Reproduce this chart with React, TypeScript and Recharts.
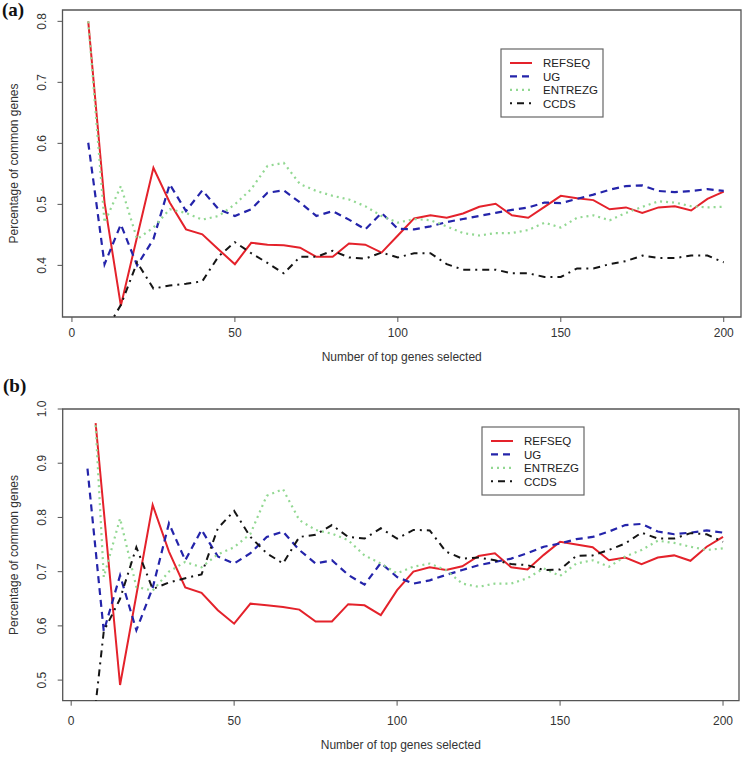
import React from "react";
import { LineChart, Line, XAxis, YAxis, ReferenceArea } from "recharts";

// ---------- data ----------
const X_STEPS = [5, 10, 15, 20, 25, 30, 35, 40, 45, 50, 55, 60, 65, 70, 75, 80, 85, 90, 95, 100,
  105, 110, 115, 120, 125, 130, 135, 140, 145, 150, 155, 160, 165, 170, 175, 180, 185, 190, 195, 200];
const X_B_ENTREZG = [7.5, 10, 15, 20, 25, 30, 35, 40, 45, 50, 55, 60, 65, 70, 75, 80, 85, 90, 95, 100,
  105, 110, 115, 120, 125, 130, 135, 140, 145, 150, 155, 160, 165, 170, 175, 180, 185, 190, 195, 200];
const X_B_REFSEQ = [7.5, 15, 20, 25, 30, 35, 40, 45, 50, 55, 60, 65, 70, 75, 80, 85, 90, 95, 100,
  105, 110, 115, 120, 125, 130, 135, 140, 145, 150, 155, 160, 165, 170, 175, 180, 185, 190, 195, 200];

const X_TICKS = [0, 50, 100, 150, 200];
const A_Y_TICKS = [0.4, 0.5, 0.6, 0.7, 0.8];
const B_Y_TICKS = [0.5, 0.6, 0.7, 0.8, 0.9, 1.0];

// panel (a)
const A_REFSEQ = [0.800, 0.503, 0.334, 0.447, 0.560, 0.503, 0.459, 0.451, 0.426, 0.402, 0.437, 0.434, 0.433, 0.429, 0.414, 0.414, 0.436, 0.434, 0.421, 0.449,
  0.477, 0.482, 0.478, 0.485, 0.496, 0.501, 0.482, 0.478, 0.496, 0.514, 0.510, 0.507, 0.492, 0.495, 0.486, 0.495, 0.497, 0.490, 0.509, 0.521];
const A_UG = [0.601, 0.402, 0.467, 0.400, 0.443, 0.533, 0.489, 0.523, 0.492, 0.481, 0.492, 0.519, 0.523, 0.503, 0.481, 0.489, 0.475, 0.459, 0.486, 0.460,
  0.459, 0.464, 0.471, 0.476, 0.481, 0.486, 0.491, 0.495, 0.503, 0.502, 0.509, 0.516, 0.524, 0.530, 0.531, 0.522, 0.520, 0.522, 0.525, 0.522];
const A_ENTREZG = [0.800, 0.470, 0.530, 0.443, 0.462, 0.492, 0.486, 0.475, 0.481, 0.500, 0.525, 0.563, 0.568, 0.533, 0.522, 0.514, 0.508, 0.497, 0.481, 0.470,
  0.476, 0.474, 0.464, 0.453, 0.449, 0.453, 0.453, 0.458, 0.470, 0.462, 0.478, 0.482, 0.474, 0.486, 0.496, 0.505, 0.503, 0.497, 0.495, 0.496];
const A_CCDS = [0.200, 0.290, 0.335, 0.405, 0.362, 0.367, 0.370, 0.374, 0.415, 0.438, 0.420, 0.404, 0.387, 0.414, 0.414, 0.424, 0.413, 0.411, 0.421, 0.413,
  0.420, 0.420, 0.402, 0.393, 0.393, 0.393, 0.387, 0.387, 0.381, 0.381, 0.395, 0.395, 0.402, 0.407, 0.416, 0.412, 0.412, 0.416, 0.416, 0.405];

// panel (b)
const B_REFSEQ = [0.974, 0.491, 0.657, 0.823, 0.737, 0.671, 0.661, 0.629, 0.604, 0.641, 0.638, 0.635, 0.630, 0.608, 0.608, 0.640, 0.638, 0.620, 0.666,
  0.700, 0.708, 0.703, 0.710, 0.729, 0.734, 0.708, 0.704, 0.731, 0.755, 0.750, 0.745, 0.721, 0.726, 0.714, 0.726, 0.730, 0.720, 0.746, 0.764];
const B_UG = [0.890, 0.590, 0.693, 0.592, 0.670, 0.789, 0.721, 0.777, 0.728, 0.715, 0.734, 0.764, 0.774, 0.740, 0.715, 0.721, 0.694, 0.676, 0.716, 0.690,
  0.678, 0.684, 0.694, 0.703, 0.712, 0.718, 0.724, 0.734, 0.746, 0.752, 0.760, 0.764, 0.774, 0.786, 0.788, 0.774, 0.769, 0.772, 0.776, 0.772];
const B_ENTREZG = [0.970, 0.690, 0.798, 0.672, 0.665, 0.700, 0.718, 0.708, 0.732, 0.745, 0.770, 0.840, 0.852, 0.795, 0.777, 0.770, 0.758, 0.730, 0.715, 0.697,
  0.709, 0.715, 0.703, 0.678, 0.672, 0.678, 0.678, 0.688, 0.706, 0.692, 0.715, 0.721, 0.709, 0.728, 0.740, 0.757, 0.753, 0.746, 0.740, 0.743];
const B_CCDS = [0.320, 0.590, 0.650, 0.745, 0.668, 0.680, 0.688, 0.695, 0.780, 0.812, 0.764, 0.734, 0.715, 0.764, 0.768, 0.786, 0.764, 0.761, 0.780, 0.761,
  0.777, 0.776, 0.737, 0.724, 0.726, 0.721, 0.714, 0.712, 0.703, 0.704, 0.729, 0.730, 0.740, 0.752, 0.772, 0.761, 0.761, 0.771, 0.769, 0.755];

const SERIES_NAMES = ["REFSEQ", "UG", "ENTREZG", "CCDS"];

// ---------- styles ----------
const FONT = '"Liberation Sans", Arial, Helvetica, sans-serif';
const SERIF = '"Liberation Serif", "Times New Roman", serif';
const STYLE: Record<string, { color: string; width: number; dash?: string }> = {
  REFSEQ: { color: "#e4222b", width: 2 },
  UG: { color: "#2424aa", width: 2.2, dash: "7 5" },
  ENTREZG: { color: "#92d892", width: 2.2, dash: "2 4" },
  CCDS: { color: "#151515", width: 2, dash: "2 5 7 5" },
};

const zip = (xs: number[], ys: number[]) => xs.map((x, i) => ({ x, y: ys[i] }));

const YTick = (props: any) => {
  const { x, y, payload } = props;
  const tx = x - 9.5;
  return (
    <text x={tx} y={y} transform={`rotate(-90, ${tx}, ${y})`} textAnchor="middle"
      fontSize={12} fill="#333" fontFamily={FONT}>
      {Number(payload.value).toFixed(1)}
    </text>
  );
};

type PanelProps = {
  top: number;
  height: number;
  marginTop: number;
  marginRight: number;
  yAxisWidth: number;
  xAxisHeight: number;
  tickMargin: number;
  xDomain: [number, number];
  yDomain: [number, number];
  yTicks: number[];
  series: { name: string; points: { x: number; y: number }[] }[];
  letter: string;
  letterPos: [number, number];
  legendPos: [number, number];
  yTitleY: number;
  xTitleY: number;
};

function Panel(p: PanelProps) {
  const W = 750;
  const plotLeft = p.yAxisWidth;
  const plotRight = W - p.marginRight;
  const [lx, ly] = p.legendPos;
  return (
    <div style={{ position: "absolute", left: 0, top: p.top, width: W, height: p.height }}>
      <LineChart width={W} height={p.height}
        margin={{ top: p.marginTop, right: p.marginRight, bottom: 0, left: 0 }}>
        <XAxis type="number" dataKey="x" domain={p.xDomain} allowDataOverflow ticks={X_TICKS}
          height={p.xAxisHeight} axisLine={false} tickSize={5} tickMargin={p.tickMargin}
          tickLine={{ stroke: "#555" }} tick={{ fontSize: 12, fill: "#333", fontFamily: FONT }} />
        <YAxis type="number" dataKey="y" domain={p.yDomain} allowDataOverflow ticks={p.yTicks}
          width={p.yAxisWidth} axisLine={false} tickSize={5} tickMargin={2}
          tickLine={{ stroke: "#555" }} tick={<YTick />} />
        {p.series.map((s) => (
          <Line key={s.name} data={s.points} dataKey="y" name={s.name} type="linear"
            stroke={STYLE[s.name].color} strokeWidth={STYLE[s.name].width}
            strokeDasharray={STYLE[s.name].dash} dot={false} activeDot={false}
            isAnimationActive={false} />
        ))}
        <ReferenceArea x1={p.xDomain[0]} x2={p.xDomain[1]} y1={p.yDomain[0]} y2={p.yDomain[1]}
          fill="none" stroke="#555" strokeWidth={1.3} ifOverflow="visible" />
      </LineChart>
      <svg width={W} height={p.height} style={{ position: "absolute", left: 0, top: 0, pointerEvents: "none" }}>
        <text x={p.letterPos[0]} y={p.letterPos[1]} fontFamily={SERIF} fontWeight="bold" fontSize={19} fill="#111">
          {p.letter}
        </text>
        <text x={18} y={p.yTitleY} transform={`rotate(-90, 18, ${p.yTitleY})`} textAnchor="middle"
          fontFamily={FONT} fontSize={12} fill="#333">
          Percentage of common genes
        </text>
        <text x={(plotLeft + plotRight) / 2} y={p.xTitleY} textAnchor="middle"
          fontFamily={FONT} fontSize={12} fill="#333">
          Number of top genes selected
        </text>
        <rect x={lx} y={ly} width={102} height={68} fill="#fff" stroke="#666" strokeWidth={1.2} />
        {SERIES_NAMES.map((name, i) => {
          const ry = ly + 14 + i * 13.4;
          return (
            <g key={name}>
              <line x1={lx + 9} x2={lx + 31} y1={ry} y2={ry} stroke={STYLE[name].color}
                strokeWidth={STYLE[name].width} strokeDasharray={STYLE[name].dash} />
              <text x={lx + 42} y={ry + 4.3} fontFamily={FONT} fontSize={11.5} fill="#222">{name}</text>
            </g>
          );
        })}
      </svg>
    </div>
  );
}

export default function App() {
  const seriesA = [
    { name: "REFSEQ", points: zip(X_STEPS, A_REFSEQ) },
    { name: "UG", points: zip(X_STEPS, A_UG) },
    { name: "ENTREZG", points: zip(X_STEPS, A_ENTREZG) },
    { name: "CCDS", points: zip(X_STEPS, A_CCDS) },
  ];
  const seriesB = [
    { name: "REFSEQ", points: zip(X_B_REFSEQ, B_REFSEQ) },
    { name: "UG", points: zip(X_STEPS, B_UG) },
    { name: "ENTREZG", points: zip(X_B_ENTREZG, B_ENTREZG) },
    { name: "CCDS", points: zip(X_STEPS, B_CCDS) },
  ];
  return (
    <div style={{ position: "absolute", left: 0, top: 0, width: 750, height: 759, background: "#fff", overflow: "hidden" }}>
      <Panel top={0} height={370} marginTop={10} marginRight={9} yAxisWidth={62.5} xAxisHeight={53}
        tickMargin={6} xDomain={[-2.9, 205.3]} yDomain={[0.3154, 0.8186]} yTicks={A_Y_TICKS}
        series={seriesA} letter="(a)" letterPos={[2, 16]} legendPos={[501, 49]}
        yTitleY={163.5} xTitleY={361} />
      <Panel top={370} height={389} marginTop={39} marginRight={11} yAxisWidth={62.7} xAxisHeight={58.3}
        tickMargin={11} xDomain={[-2.6, 204.9]} yDomain={[0.462, 1.0]} yTicks={B_Y_TICKS}
        series={seriesB} letter="(b)" letterPos={[3, 21.6]} legendPos={[482, 57]}
        yTitleY={185} xTitleY={379} />
    </div>
  );
}
